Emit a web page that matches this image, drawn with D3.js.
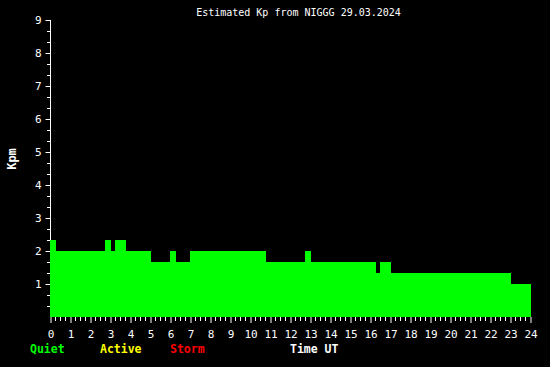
<!DOCTYPE html>
<html>
<head>
<meta charset="utf-8">
<script src="https://cdn.jsdelivr.net/npm/d3@7"></script>
<style>
  body { margin: 0; background: #000; }
  svg { display: block; }
</style>
</head>
<body>
<div id="chart"></div>
<script>
// step segments: start hour, Kp value (thirds), last one ends at segEnd
const segStart = [0, 0.3, 2.75, 3.05, 3.25, 3.8, 5.05, 6.0, 6.3, 7.0, 10.8, 12.75, 13.05, 16.3, 16.5, 17.05, 23.05];
const segValue = [2.33, 2, 2.33, 2, 2.33, 2, 1.67, 2, 1.67, 2, 1.67, 2, 1.67, 1.33, 1.67, 1.33, 1.0];
const segEnd = 24.05;

const xTicks = d3.range(0, 25);
const yTicks = d3.range(1, 10);
const legend = [
  { label: "Quiet", color: "#00ff00", x: 30 },
  { label: "Active", color: "#ffff00", x: 100 },
  { label: "Storm", color: "#ff0000", x: 170 }
];

const width = 550, height = 367;
const mono = "'DejaVu Sans Mono', monospace";

const svg = d3.select("#chart").append("svg")
  .attr("width", width)
  .attr("height", height)
  .style("background", "#000");

const x = d3.scaleLinear().domain([0, 24]).range([50, 530]);
const y = d3.scaleLinear().domain([0, 9]).range([317, 20]);

// Titel
svg.append("text")
  .attr("x", 298.5).attr("y", 16)
  .attr("text-anchor", "middle")
  .attr("fill", "#fff")
  .style("font-family", mono).style("font-size", "10px")
  .text("Estimated Kp from NIGGG 29.03.2024");

// Y-Achse (Linie + Ticks)
const yAxis = svg.append("g")
  .attr("transform", "translate(50.5,0)")
  .call(d3.axisLeft(y).tickValues(yTicks).tickSize(5).tickPadding(4).tickFormat(d3.format("d")));
yAxis.select(".domain").attr("d", `M0,${y(9)}V${y(0)}`).attr("stroke", "#fff");
yAxis.selectAll("line").attr("stroke", "#fff");
yAxis.selectAll("text").attr("fill", "#fff")
  .style("font-family", mono).style("font-size", "11px");

// kleine Ticks auf der Y-Achse (1/3 Schritte)
const yMinor = d3.range(0, 27).map(i => i / 3).filter(v => Math.abs(v - Math.round(v)) > 0.01);
svg.append("g").selectAll("line")
  .data(yMinor).enter().append("line")
  .attr("x1", 47).attr("x2", 50)
  .attr("y1", d => Math.round(y(d)) + 0.5).attr("y2", d => Math.round(y(d)) + 0.5)
  .attr("stroke", "#fff");

// Balken
svg.append("g").selectAll("rect")
  .data(segStart).enter().append("rect")
  .attr("x", (d, i) => x(d))
  .attr("width", (d, i) => x(i < segStart.length - 1 ? segStart[i + 1] : segEnd) - x(d))
  .attr("y", (d, i) => Math.round(y(segValue[i])))
  .attr("height", (d, i) => y(0) - Math.round(y(segValue[i])))
  .attr("fill", "#00ff00")
  .attr("shape-rendering", "crispEdges");

// X-Achse (ohne Linie)
const xAxis = svg.append("g")
  .attr("transform", "translate(0.5,317)")
  .call(d3.axisBottom(x).tickValues(xTicks).tickSize(6).tickPadding(7).tickFormat(d3.format("d")));
xAxis.select(".domain").remove();
xAxis.selectAll("line").attr("stroke", "#fff");
xAxis.selectAll("text").attr("fill", "#fff")
  .style("font-family", mono).style("font-size", "11px");

// kleine Ticks auf der X-Achse (15 min)
const xMinor = d3.range(0, 97).map(i => i / 4).filter(v => v % 1 !== 0);
svg.append("g").selectAll("line")
  .data(xMinor).enter().append("line")
  .attr("x1", d => Math.round(x(d)) + 0.5).attr("x2", d => Math.round(x(d)) + 0.5)
  .attr("y1", 317).attr("y2", 321)
  .attr("stroke", "#fff");

// Achsentitel
svg.append("text")
  .attr("transform", "translate(16,159) rotate(-90)")
  .attr("text-anchor", "middle")
  .attr("fill", "#fff")
  .style("font-family", mono).style("font-size", "12px").style("font-weight", "bold")
  .text("Kpm");

svg.append("text")
  .attr("x", 290).attr("y", 353)
  .attr("fill", "#fff")
  .style("font-family", mono).style("font-size", "11.5px").style("font-weight", "bold")
  .text("Time UT");

// Legende
svg.append("g").selectAll("text")
  .data(legend).enter().append("text")
  .attr("x", d => d.x).attr("y", 353)
  .attr("fill", d => d.color)
  .style("font-family", mono).style("font-size", "11.5px").style("font-weight", "bold")
  .text(d => d.label);
</script>
</body>
</html>
